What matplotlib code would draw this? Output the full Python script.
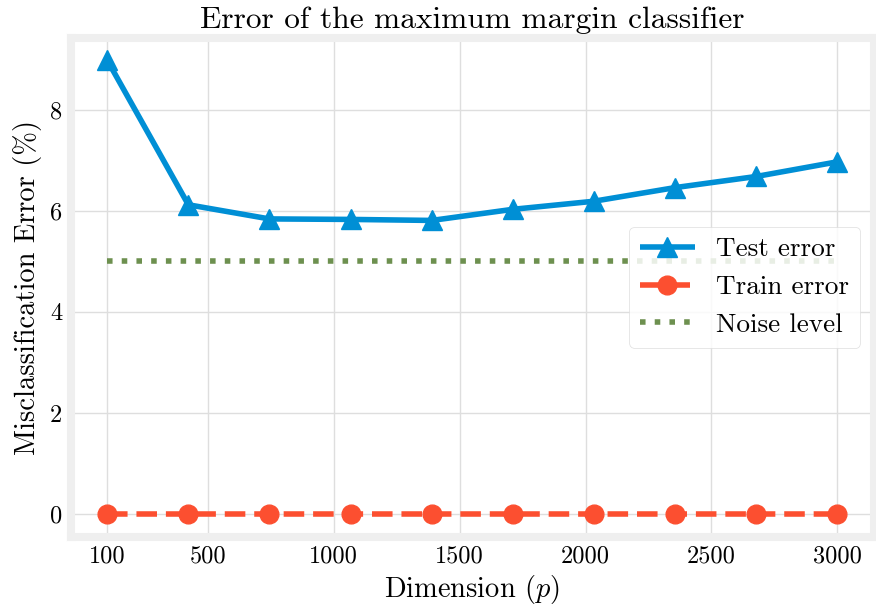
import numpy as np
import matplotlib
matplotlib.use("Agg")
import matplotlib.pyplot as plt

plt.style.use('fivethirtyeight')
plt.rcParams['font.family'] = 'serif'
plt.rcParams['font.serif'] = ['cmr10']
plt.rcParams['mathtext.fontset'] = 'cm'
plt.rcParams['axes.unicode_minus'] = False

# dimensions p and errors in %
dims = [100, 422, 744, 1067, 1389, 1711, 2033, 2356, 2678, 3000]
test_err = [8.98, 6.12, 5.84, 5.83, 5.81, 6.03, 6.19, 6.46, 6.68, 6.97]
train_err = [0, 0, 0, 0, 0, 0, 0, 0, 0, 0]
noise = [5.0] * len(dims)
xticks = [100, 500, 1000, 1500, 2000, 2500, 3000]

fig = plt.figure(figsize=(8.76, 6.05), dpi=100, facecolor='white')
ax = fig.add_axes([0.0808, 0.1129, 0.9167, 0.825])
ax.set_facecolor('white')
for s in ax.spines.values():
    s.set_linewidth(5.8)
    s.set_color('#efefef')
ax.grid(True, color='#dedede', linewidth=1.0)

ax.plot(dims, test_err, '-^', color='#008fd5', lw=4, ms=14, label='Test error')
ax.plot(dims, train_err, '--o', color='#fc4f30', lw=4, ms=13.5, label='Train error')
ax.plot(dims, noise, ':', color='#6d904f', lw=4, label='Noise level')

ax.set_xticks(xticks)
ax.set_yticks([0, 2, 4, 6, 8])
ax.tick_params(axis='both', labelsize=17.5, pad=6, length=0)

ax.set_title('Error of the maximum margin classifier', fontsize=22.6, pad=7)
ax.set_xlabel(r'Dimension ($p$)', fontsize=20.5, labelpad=4)
ax.set_ylabel('Misclassification Error (%)', fontsize=20.5, labelpad=6)

leg = ax.legend(loc='center right', fontsize=19.6, framealpha=0.85,
                fancybox=True, facecolor='white', edgecolor='#d8d8d8')

fig.savefig('out.png', dpi=100, facecolor='white')
